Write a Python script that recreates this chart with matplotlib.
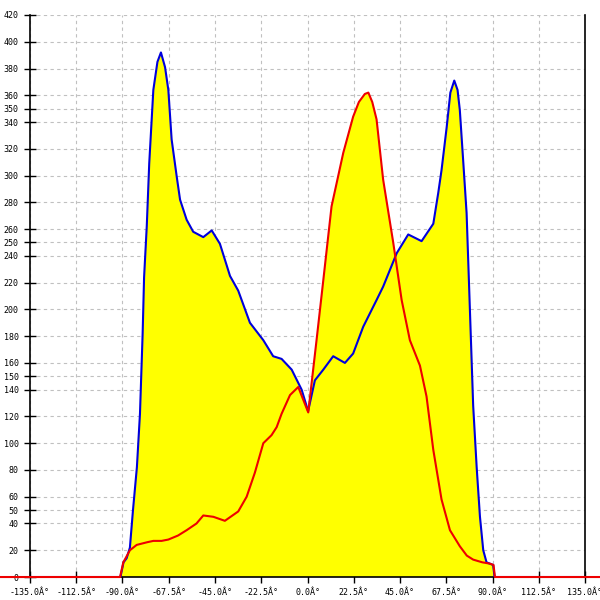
import numpy as np
import matplotlib.pyplot as plt

# angle (deg) / value
blue_x = [-150, -91, -89.5, -88, -86.4, -84.9, -83, -81.5, -80.2, -79.5, -78.2, -77,
          -75, -73, -71.3, -69.3, -67.7, -66.1, -63.6, -62, -58.8, -55.6, -50.7, -46.6,
          -42.6, -37.7, -33.7, -28, -21.5, -16.7, -12.6, -7.7, -2.85, 0.3, 3.6, 7.7,
          12.5, 18.2, 22.2, 27.1, 33.6, 36.8, 43.4, 49, 55.5, 61.2, 63.6, 65.2, 67.7,
          69.5, 71.4, 73, 74.1, 75.7, 77.4, 79, 80.6, 82.3, 83.9, 85.5, 87.1, 90.3, 91, 150]
blue_y = [0, 0, 11, 14, 22, 50, 82, 122, 182, 224, 262, 309,
          364, 385, 392, 381, 364, 327, 299, 282, 267, 258, 254, 259,
          249, 225, 214, 190, 177, 165, 163, 155, 140, 124, 147, 155,
          165, 160, 167, 187, 207, 217, 242, 256, 251, 264, 287, 304, 336,
          362, 371, 364, 349, 312, 272, 200, 128, 82, 45, 20, 11, 9, 0, 0]

red_x = [-150, -91.2, -89.6, -86.4, -83.1, -78, -75, -71, -67.7, -63, -58.8, -54,
         -50.7, -45.8, -40.2, -33.7, -29.6, -25.6, -21.5, -17.5, -15, -12.6, -8.5,
         -4.5, 0.36, 4.4, 7.7, 11.7, 17.4, 22.2, 25, 27.9, 29.6, 31.5, 33.6, 36.8,
         41.7, 45.8, 49.8, 54.7, 57.9, 61.2, 65.2, 69.3, 74.1, 77.5, 80.6, 85, 88.7,
         90.5, 91.2, 150]
red_y = [0, 0, 11, 20, 24, 26, 27, 27, 28, 31, 35, 40,
         46, 45, 42, 49, 60, 78, 100, 106, 112, 122, 136,
         142, 123, 177, 222, 277, 317, 344, 355, 361, 362, 355, 342, 297,
         250, 207, 177, 158, 135, 95, 58, 35, 23, 16, 13, 11, 10,
         9, 0, 0]

xticks = np.arange(-135, 135.1, 22.5)
xlabels = ["%.1fÂ°" % v for v in xticks]
yticks = [0, 20, 40, 50, 60, 80, 100, 120, 140, 150, 160, 180, 200, 220, 240, 250,
          260, 280, 300, 320, 340, 350, 360, 380, 400, 420]

fig = plt.figure(figsize=(6, 6), dpi=100)
ax = fig.add_axes([0.05, 0.0383, 0.925, 0.9367])

ax.fill_between(blue_x, blue_y, 0, color="#ffff00", lw=0, zorder=1)
ax.fill_between(red_x, red_y, 0, color="#ffff00", lw=0, zorder=1)
ax.plot(blue_x, blue_y, color="#0000dd", lw=1.5, zorder=3)
ax.plot(red_x, red_y, color="#ee0000", lw=1.5, zorder=4, clip_on=False)

ax.set_xlim(-135, 135)
ax.set_ylim(0, 420)
ax.set_xticks(xticks)
ax.set_xticklabels(xlabels)
ax.set_yticks(yticks)
ax.set_yticklabels([str(v) for v in yticks])
ax.tick_params(direction="inout", length=8, width=1, labelsize=6, pad=4)
for lab in ax.get_xticklabels() + ax.get_yticklabels():
    lab.set_family("DejaVu Sans Mono")
ax.grid(color="#c0c0c0", linestyle=(0, (3, 3)), linewidth=0.8, zorder=0)
ax.set_axisbelow(True)
ax.spines["top"].set_visible(False)
for s in ["left", "right", "bottom"]:
    ax.spines[s].set_color("black")
    ax.spines[s].set_linewidth(1.2)

fig.savefig("out.png", dpi=100)
